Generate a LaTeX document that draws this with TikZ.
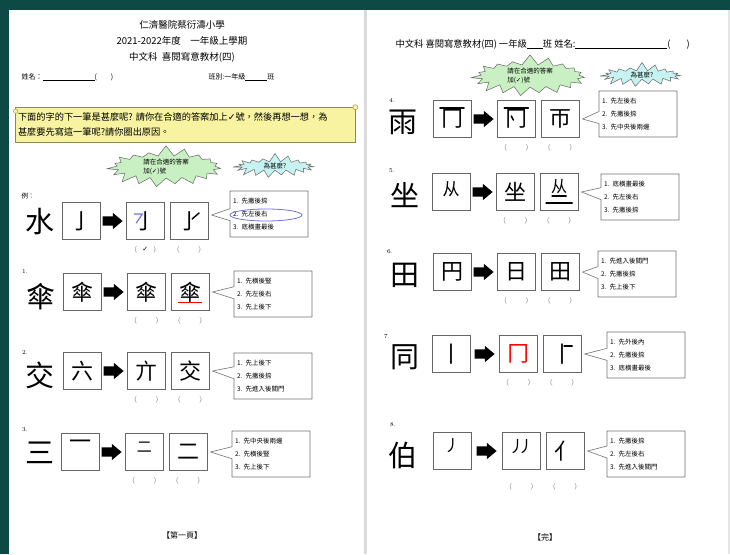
\documentclass[tikz,border=0pt]{standalone}
\usepackage{fontspec}
\newfontfamily\cjk{Noto Sans CJK TC}
\newfontfamily\sym{DejaVu Sans}
\usetikzlibrary{positioning, calc, shapes.callouts, shapes.symbols, shapes.arrows, shapes.geometric}
\definecolor{bgteal}{HTML}{0D4A45}
\definecolor{scrollyellow}{HTML}{F7F3A0}
\definecolor{scrollline}{HTML}{8E8A4E}
\definecolor{burstgreen}{HTML}{C8F0C2}
\definecolor{burstcyan}{HTML}{C6F2F2}
\definecolor{ringblue}{HTML}{7272E0}

\begin{document}
\begin{tikzpicture}[x=1pt, y=-1pt,
  bx/.style={draw=black!60, line width=.8pt, minimum width=38pt, minimum height=37pt, inner sep=0pt, font=\cjk\fontsize{22}{22}\selectfont},
  gl/.style={inner sep=0pt, font=\cjk\fontsize{22}{22}\selectfont},
  stroke/.style={line width=1.6pt, line cap=round, line join=round},
  arr/.style={single arrow, fill=black, minimum height=20pt, inner sep=4.5pt, single arrow head extend=3.5pt, single arrow tip angle=80},
  opt/.style={rectangle callout, draw=black!55, line width=.6pt, fill=white, text width=72pt, align=left, inner sep=3pt, minimum height=46pt, font=\cjk\fontsize{6.5}{13}\selectfont, callout pointer width=12pt},
  big/.style={font=\cjk\fontsize{29}{29}\selectfont},
  num/.style={font=\fontsize{6}{6}\selectfont},
  par/.style={font=\fontsize{7}{7}\selectfont, text=black!60},
  burst/.style={starburst, draw=black!60, line width=.5pt, starburst points=19, random starburst=7, align=left, inner sep=0pt, font=\cjk\fontsize{6.5}{9}\selectfont},
  head/.style={font=\cjk\fontsize{9.5}{13}\selectfont}
]
\useasboundingbox (0,0) rectangle (730,554);
% pages
\fill[bgteal] (0,0) rectangle (730,554);
\fill[white] (9,10) rectangle (728,554);
\fill[black!14] (364,10) rectangle (367,554);
\fill[black!10] (728,10) rectangle (730,554);

% ---------- page one ----------
\node[head] (sch) at (182,25) {仁濟醫院蔡衍濤小學};
\node[head, below=0pt of sch] (yr) {2021-2022年度\quad 一年級上學期};
\node[head, below=0pt of yr] (sub) {中文科\ \ 喜閱寫意教材(四)};
\node[anchor=west, font=\cjk\fontsize{7}{7}\selectfont] (nm) at (18,77) {姓名：\rule[-1pt]{52pt}{.4pt}(\hspace{14pt})};
\node[anchor=west, font=\cjk\fontsize{7}{7}\selectfont] (cls) at (205,77) {班別:一年級\rule[-1pt]{22pt}{.4pt}班};

\node[draw=scrollline, fill=scrollyellow, line width=.7pt, minimum width=340pt, minimum height=35pt, text width=334pt, align=left, inner sep=3pt, font=\cjk\fontsize{9.2}{15}\selectfont] (task) at (185,125) {下面的字的下一筆是甚麼呢?\ 請你在合適的答案加上{\sym ✓}號，然後再想一想，為\\甚麼要先寫這一筆呢?請你圈出原因。};
\draw[scrollline, fill=scrollyellow] (task.north east) circle (2.5);
\draw[scrollline, fill=scrollyellow] (task.north west) ++(1,4) circle (2.2);

\node[burst, fill=burstgreen, starburst point height=11pt, minimum width=120pt, minimum height=16pt] (tip) at (166,167) {請在合適的答案\\加({\sym ✓})號};
\node[burst, fill=burstcyan, starburst point height=9pt, minimum width=86pt, minimum height=8pt] (why) at (275,166) {為甚麼?};

% example
\node[num, font=\cjk\fontsize{6.5}{6.5}\selectfont] at (28,196) {例：};
\node[big] (ch0) at (40,222) {水};
\node[bx] (a0) at (81,221) {亅};
\node[arr, right=2pt of a0] (r0) {};
\node[bx, right=3pt of r0] (b0) {亅};
\draw[stroke, ringblue, line width=1.2pt] ($(b0)+(-11,-7)$) -- ++(8,0) -- ++(-6,9);
\node[bx, right=5pt of b0] (d0) {亅};
\draw[stroke, line width=1.4pt] ($(d0)+(3,-2)$) -- ++(7,-6);
\node[opt, callout absolute pointer={($(d0.east)+(3,-6)$)}] (o0) at (269,214) {1. 先撇後捺\\2. 先左後右\\3. 底橫畫最後};
\draw[ringblue, line width=.8pt] ($(o0.center)+(-3,1)$) ellipse [x radius=36, y radius=6];
\node[par, below=3pt of b0] (p0) {(\hspace{5pt}{\sym\fontsize{7}{7}\selectfont\color{black}✓}\hspace{5pt})};
\node[par, below=3pt of d0] (q0) {(\hspace{18pt})};

% 1
\node[num] at (25,272) {1.};
\node[big] (ch1) at (41,297) {傘};
\node[bx] (a1) at (82,292) {傘};
\node[arr, right=2pt of a1] (r1) {};
\node[bx, right=3pt of r1] (b1) {傘};
\node[bx, right=5pt of b1] (d1) {傘};
\draw[red, line width=1.1pt] ($(d1.south)+(-12,-8)$) -- ($(d1.south)+(12,-8)$);
\node[opt, callout absolute pointer={($(d1.east)+(3,0)$)}] (o1) at (273,294) {1. 先橫後豎\\2. 先左後右\\3. 先上後下};
\node[par, below=3pt of b1] (p1) {(\hspace{18pt})};
\node[par, below=3pt of d1] (q1) {(\hspace{18pt})};

% 2
\node[num] at (25,352) {2.};
\node[big] (ch2) at (40,375) {交};
\node[bx] (a2) at (82,371) {六};
\node[arr, right=2pt of a2] (r2) {};
\node[bx, right=3pt of r2] (b2) {亣};
\node[bx, right=5pt of b2] (d2) {交};
\node[opt, callout absolute pointer={($(d2.east)+(3,0)$)}] (o2) at (273,376) {1. 先上後下\\2. 先撇後捺\\3. 先進入後關門};
\node[par, below=3pt of b2] (p2) {(\hspace{18pt})};
\node[par, below=3pt of d2] (q2) {(\hspace{18pt})};

% 3
\node[num] at (25,430) {3.};
\node[big] (ch3) at (40,453) {三};
\node[bx] (a3) at (80,452) {};
\node[gl, yshift=7pt] at (a3) {一};
\node[arr, right=2pt of a3] (r3) {};
\node[bx, right=3pt of r3] (b3) {};
\node[gl, font=\cjk\fontsize{15}{15}\selectfont, yshift=5pt] at (b3) {二};
\node[bx, right=5pt of b3] (d3) {二};
\node[opt, callout absolute pointer={($(d3.east)+(3,0)$)}] (o3) at (271,454) {1. 先中央後兩邊\\2. 先橫後豎\\3. 先上後下};
\node[par, below=3pt of b3] (p3) {(\hspace{18pt})};
\node[par, below=3pt of d3] (q3) {(\hspace{18pt})};

\node[font=\cjk\fontsize{8}{8}\selectfont] (pg1) at (182,535) {【第一頁】};

% ---------- page two ----------
\node[anchor=west, font=\cjk\fontsize{9.3}{9.3}\selectfont] (hd2) at (392,44) {中文科\ 喜閱寫意教材(四)\ 一年級\rule[-1pt]{16pt}{.4pt}班\ 姓名:\rule[-1pt]{92pt}{.4pt}(\hspace{16pt})};
\node[burst, fill=burstgreen, starburst point height=11pt, minimum width=120pt, minimum height=16pt] (tip2) at (530,76) {請在合適的答案\\加({\sym ✓})號};
\node[burst, fill=burstcyan, starburst point height=9pt, minimum width=86pt, minimum height=8pt] (why2) at (642,75) {為甚麼?};

% 4
\node[num] at (392,100) {4.};
\node[big] (ch4) at (403,122) {雨};
\node[bx] (a4) at (452,119) {冂};
\draw[stroke] ($(a4)+(-12,-11)$) -- ++(24,0);
\node[arr, right=2pt of a4] (r4) {};
\node[bx, right=3pt of r4] (b4) {冂};
\draw[stroke] ($(b4)+(-12,-11)$) -- ++(24,0);
\draw[stroke] ($(b4)+(-5,-3)$) -- ++(2,4);
\node[bx, right=5pt of b4] (d4) {帀};
\node[opt, callout absolute pointer={($(d4.east)+(3,0)$)}] (o4) at (638,114) {1. 先左後右\\2. 先撇後捺\\3. 先中央後兩邊};
\node[par, below=3pt of b4] (p4) {(\hspace{18pt})};
\node[par, below=3pt of d4] (q4) {(\hspace{18pt})};

% 5
\node[num] at (392,171) {5.};
\node[big] (ch5) at (405,195) {坐};
\node[bx] (a5) at (451,192) {};
\node[gl, font=\cjk\fontsize{17}{17}\selectfont, yshift=3pt] at (a5) {从};
\node[arr, right=2pt of a5] (r5) {};
\node[bx, right=3pt of r5] (b5) {坐};
\node[bx, right=5pt of b5] (d5) {};
\node[gl, font=\cjk\fontsize{16}{16}\selectfont, yshift=5pt] at (d5) {从};
\draw[stroke] ($(d5)+(-7,4)$) -- ++(14,0);
\draw[stroke] ($(d5)+(-13,11)$) -- ++(26,0);
\node[opt, callout absolute pointer={($(d5.east)+(3,0)$)}] (o5) at (640,197) {1. 底橫畫最後\\2. 先左後右\\3. 先撇後捺};
\node[par, below=3pt of b5] (p5) {(\hspace{18pt})};
\node[par, below=3pt of d5] (q5) {(\hspace{18pt})};

% 6
\node[num] at (390,252) {6.};
\node[big] (ch6) at (405,275) {田};
\node[bx] (a6) at (452,272) {円};
\node[arr, right=2pt of a6] (r6) {};
\node[bx, right=3pt of r6] (b6) {日};
\node[bx, right=5pt of b6] (d6) {田};
\node[opt, callout absolute pointer={($(d6.east)+(3,0)$)}] (o6) at (637,274) {1. 先進入後關門\\2. 先撇後捺\\3. 先上後下};
\node[par, below=3pt of b6] (p6) {(\hspace{18pt})};
\node[par, below=3pt of d6] (q6) {(\hspace{18pt})};

% 7
\node[num] at (387,337) {7.};
\node[big] (ch7) at (405,357) {同};
\node[bx] (a7) at (451,354) {丨};
\node[arr, right=4pt of a7] (r7) {};
\node[bx, right=4pt of r7, text=red] (b7) {冂};
\node[bx, right=5pt of b7] (d7) {丨};
\draw[stroke] ($(d7)+(2,-8)$) -- ++(8,0);
\node[opt, callout absolute pointer={($(d7.east)+(3,0)$)}] (o7) at (646,355) {1. 先外後內\\2. 先撇後捺\\3. 底橫畫最後};
\node[par, below=3pt of b7] (p7) {(\hspace{18pt})};
\node[par, below=3pt of d7] (q7) {(\hspace{18pt})};

% 8
\node[num] at (393,425) {8.};
\node[big] (ch8) at (403,455) {伯};
\node[bx] (a8) at (452,451) {};
\node[gl, font=\cjk\fontsize{16}{16}\selectfont, yshift=5pt] at (a8) {丿};
\node[arr, right=5pt of a8] (r8) {};
\node[bx, right=5pt of r8] (b8) {};
\node[gl, font=\cjk\fontsize{16}{16}\selectfont, yshift=4pt] at (b8) {丿\hspace{-7pt}丿};
\node[bx, right=5pt of b8] (d8) {亻};
\node[opt, callout absolute pointer={($(d8.east)+(3,0)$)}] (o8) at (646,454) {1. 先撇後捺\\2. 先左後右\\3. 先進入後關門};
\node[par, below=10pt of b8] (p8) {(\hspace{18pt})};
\node[par, below=10pt of d8] (q8) {(\hspace{18pt})};

\node[font=\cjk\fontsize{8}{8}\selectfont] (pg2) at (545,537) {【完】};
\end{tikzpicture}
\end{document}
